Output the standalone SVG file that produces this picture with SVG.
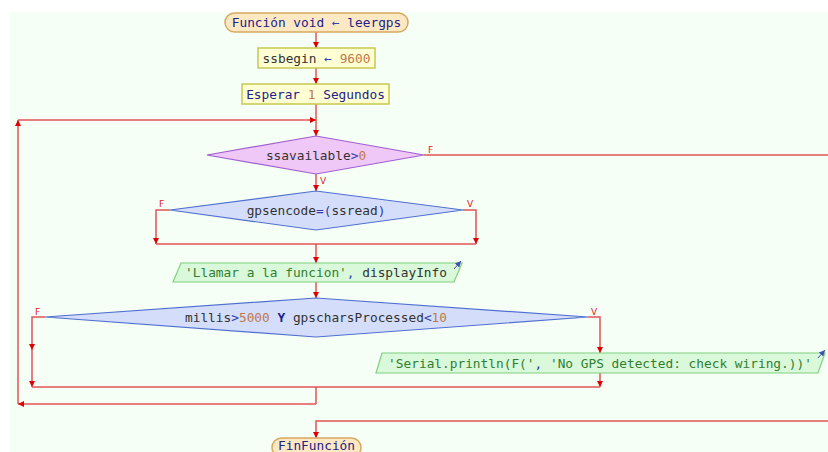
<svg xmlns="http://www.w3.org/2000/svg" width="828" height="452" viewBox="0 0 828 452">
<defs>
<marker id="ah" viewBox="0 0 6 6" refX="6" refY="3" markerWidth="6" markerHeight="6" markerUnits="userSpaceOnUse" orient="auto"><path d="M0,0 L6,3 L0,6 z" fill="#dd0000"/></marker>
<marker id="ab" viewBox="0 0 6 6" refX="6" refY="3" markerWidth="6" markerHeight="6" markerUnits="userSpaceOnUse" orient="auto"><path d="M0,0 L6,3 L0,6 z" fill="#4050b0"/></marker>
</defs>
<style>
text{font-family:"DejaVu Sans Mono","Liberation Mono",monospace;font-size:12.8px;fill:#333}
.c{fill:none;stroke:#e05555;stroke-width:1.5}
.a{marker-end:url(#ah)}
.lbl{font-family:"DejaVu Sans","Liberation Sans",sans-serif;font-size:9px;fill:#dd2222}
.term{fill:#fde8c4;stroke:#d8a860;stroke-width:1.5}
.proc{fill:#ffffd4;stroke:#c8c850;stroke-width:1.5}
.dp{fill:#f0c8f8;stroke:#a060d0;stroke-width:1.2}
.db{fill:#d4defa;stroke:#5070d0;stroke-width:1.2}
.io{fill:#daf8da;stroke:#80d080;stroke-width:1.2}
.kw{fill:#22228a}
.op{fill:#3040b0}
.num{fill:#c07848}
.str{fill:#308030}
.ic{fill:none;stroke:#4050b0;stroke-width:1;marker-end:url(#ab)}
</style>
<rect x="0" y="0" width="828" height="452" fill="#ffffff"/>
<rect x="10" y="12" width="818" height="440" fill="#f5fff5"/>
<g id="connectors">
<path class="c a" d="M316,32 V48"/>
<path class="c a" d="M316,68 V84"/>
<path class="c a" d="M316,104 V136"/>
<path class="c a" d="M316,404 H18"/>
<path class="c a" d="M18,404 V120"/>
<path class="c a" d="M18,120 H316"/>
<path class="c" d="M424,155 H828"/>
<path class="c a" d="M316,174 V191"/>
<path class="c a" d="M170,210 H156 V244"/>
<path class="c a" d="M463,210 H476 V244"/>
<path class="c" d="M156,244 H476"/>
<path class="c a" d="M316,244 V263"/>
<path class="c a" d="M316,282 V298"/>
<path class="c a" d="M45,317 H32 V350"/>
<path class="c a" d="M32,350 V387"/>
<path class="c a" d="M588,317 H600 V353"/>
<path class="c a" d="M600,373 V387"/>
<path class="c" d="M32,387 H600"/>
<path class="c" d="M316,387 V404"/>
<path class="c a" d="M828,421 H316 V438"/>
<text class="lbl" x="428" y="153">F</text>
<text class="lbl" x="320" y="184">V</text>
<text class="lbl" x="159" y="207">F</text>
<text class="lbl" x="467" y="207">V</text>
<text class="lbl" x="35" y="315">F</text>
<text class="lbl" x="591" y="315">V</text>
</g>
<g id="start">
<rect class="term" x="225" y="13" width="183" height="19" rx="9.5"/>
<text x="316.5" y="27" text-anchor="middle"><tspan class="kw">Función void </tspan><tspan class="op">←</tspan><tspan class="kw"> leergps</tspan></text>
</g>
<g id="ssbegin">
<rect class="proc" x="258" y="48" width="117" height="20"/>
<text x="316.5" y="63" text-anchor="middle">ssbegin <tspan class="op">←</tspan> <tspan class="num">9600</tspan></text>
</g>
<g id="esperar">
<rect class="proc" x="242" y="84" width="147" height="20"/>
<text x="315.5" y="99" text-anchor="middle"><tspan class="kw">Esperar </tspan><tspan class="num">1</tspan><tspan class="kw"> Segundos</tspan></text>
</g>
<g id="while">
<polygon class="dp" points="316,136 424,155 316,174 207,155"/>
<text x="316" y="159.5" text-anchor="middle">ssavailable<tspan class="op">&gt;</tspan><tspan class="num">0</tspan></text>
</g>
<g id="ifgps">
<polygon class="db" points="316,191 463,210 316,230 170,210"/>
<text x="316" y="214.5" text-anchor="middle">gpsencode<tspan class="op">=(</tspan>ssread<tspan class="op">)</tspan></text>
</g>
<g id="llamar">
<polygon class="io" points="181,263 462,263 454,282 173,282"/>
<text x="316" y="277" text-anchor="middle"><tspan class="str">'Llamar a la funcion'</tspan><tspan class="op">, </tspan>displayInfo</text>
<path class="ic" d="M454,269 L461,261"/>
</g>
<g id="ifmillis">
<polygon class="db" points="316,298 588,317 316,337 45,317"/>
<text x="316" y="321.5" text-anchor="middle">millis<tspan class="op">&gt;</tspan><tspan class="num">5000</tspan> <tspan class="kw" font-weight="bold">Y</tspan> gpscharsProcessed<tspan class="op">&lt;</tspan><tspan class="num">10</tspan></text>
</g>
<g id="serial">
<polygon class="io" points="382,353 825,353 818,373 376,373"/>
<text x="600" y="368" text-anchor="middle"><tspan class="str">'Serial.println(F('</tspan><tspan class="op">, </tspan><tspan class="str">'No GPS detected: check wiring.))'</tspan></text>
<path class="ic" d="M818,358 L825,350"/>
</g>
<g id="end">
<rect class="term" x="272" y="438" width="89" height="19" rx="9.5"/>
<text x="316.5" y="450" text-anchor="middle" class="kw">FinFunción</text>
</g>
</svg>
